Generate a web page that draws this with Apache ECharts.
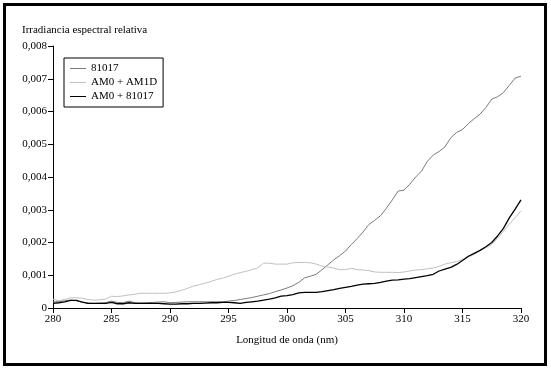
<!DOCTYPE html>
<html>
<head>
<meta charset="utf-8">
<script src="https://cdn.jsdelivr.net/npm/echarts@6/dist/echarts.min.js"></script>
<style>
  html, body { margin: 0; padding: 0; background: #fff; }
  #chart { width: 551px; height: 371px; }
</style>
</head>
<body>
<div id="chart"></div>
<script>
// wavelengths 280..320 nm, 0.5 nm step
var wavelengths = [];
for (var w = 280; w <= 320; w += 0.5) wavelengths.push(w);

var s81017 = [
  0.00018, 0.00020, 0.00022, 0.00024, 0.00022, 0.00018, 0.00015, 0.00014, 0.00015, 0.00016,
  0.00021, 0.00017, 0.00016, 0.00021, 0.00016, 0.00015, 0.00016, 0.00017, 0.00018, 0.00019,
  0.00016, 0.00017, 0.00018, 0.00019, 0.00019, 0.00019, 0.00019, 0.00019, 0.00019, 0.00019,
  0.00021, 0.00023, 0.00026, 0.00029, 0.00032, 0.00036, 0.00040, 0.00044, 0.00050, 0.00055,
  0.00061, 0.00068, 0.00078, 0.00092, 0.00097, 0.00103, 0.00117, 0.00132, 0.00147, 0.00160,
  0.00174, 0.00194, 0.00212, 0.00232, 0.00255, 0.00268, 0.00282, 0.00305, 0.00330, 0.00357,
  0.00360, 0.00378, 0.00400, 0.00418, 0.00448, 0.00467, 0.00478, 0.00492, 0.00520, 0.00536,
  0.00545, 0.00563, 0.00578, 0.00592, 0.00612, 0.00638, 0.00645, 0.00658, 0.00680, 0.00702,
  0.00708
];

var sAM1D = [
  0.00027, 0.00022, 0.00026, 0.00031, 0.00031, 0.00030, 0.00026, 0.00024, 0.00025, 0.00027,
  0.00036, 0.00035, 0.00037, 0.00040, 0.00042, 0.00045, 0.00045, 0.00045, 0.00045, 0.00045,
  0.00046, 0.00049, 0.00054, 0.00060, 0.00067, 0.00071, 0.00076, 0.00081, 0.00087, 0.00091,
  0.00097, 0.00103, 0.00108, 0.00112, 0.00117, 0.00123, 0.00137, 0.00137, 0.00134, 0.00134,
  0.00134, 0.00138, 0.00139, 0.00139, 0.00138, 0.00134, 0.00128, 0.00125, 0.00122, 0.00117,
  0.00117, 0.00121, 0.00117, 0.00116, 0.00114, 0.00110, 0.00109, 0.00109, 0.00109, 0.00108,
  0.00110, 0.00113, 0.00116, 0.00117, 0.00120, 0.00122, 0.00127, 0.00134, 0.00138, 0.00142,
  0.00148, 0.00155, 0.00164, 0.00175, 0.00184, 0.00194, 0.00213, 0.00235, 0.00256, 0.00276,
  0.00297
];

var sAM0_81017 = [
  0.00014, 0.00016, 0.00019, 0.00023, 0.00023, 0.00018, 0.00014, 0.00014, 0.00014, 0.00014,
  0.00017, 0.00013, 0.00013, 0.00016, 0.00014, 0.00014, 0.00014, 0.00014, 0.00014, 0.00013,
  0.00012, 0.00012, 0.00013, 0.00013, 0.00014, 0.00014, 0.00015, 0.00016, 0.00016, 0.00017,
  0.00017, 0.00016, 0.00014, 0.00017, 0.00019, 0.00021, 0.00024, 0.00027, 0.00031, 0.00036,
  0.00038, 0.00041, 0.00046, 0.00048, 0.00048, 0.00048, 0.00050, 0.00053, 0.00056, 0.00060,
  0.00063, 0.00066, 0.00070, 0.00073, 0.00074, 0.00075, 0.00078, 0.00082, 0.00085, 0.00086,
  0.00088, 0.00090, 0.00093, 0.00096, 0.00099, 0.00103, 0.00113, 0.00119, 0.00124, 0.00133,
  0.00145, 0.00158, 0.00167, 0.00176, 0.00187, 0.00200, 0.00220, 0.00243, 0.00275, 0.00302,
  0.00330
];

var seriesNames = ['81017', 'AM0 + AM1D', 'AM0 + 81017'];

function pairs(vals) {
  return vals.map(function (v, i) { return [wavelengths[i], v]; });
}

var font = 'Liberation Serif';
var chart = echarts.init(document.getElementById('chart'));
chart.setOption({
  animation: false,
  textStyle: { fontFamily: font, color: '#000' },
  grid: { left: 53, right: 30, top: 46, bottom: 63 },
  graphic: [
    {
      type: 'rect',
      shape: { x: 4.5, y: 4.5, width: 541, height: 360 },
      style: { fill: 'none', stroke: '#000', lineWidth: 3 }
    },
    {
      type: 'text',
      left: 22, top: 25,
      style: { text: 'Irradiancia espectral relativa', font: '11px "' + font + '"', fill: '#000' }
    }
  ],
  legend: {
    orient: 'vertical',
    left: 64, top: 58,
    padding: [5, 6, 5, 6],
    itemGap: 3,
    itemWidth: 16,
    itemHeight: 10,
    borderColor: '#000',
    borderWidth: 1,
    borderRadius: 0,
    textStyle: { fontFamily: font, fontSize: 11, color: '#000' },
    data: seriesNames.map(function (n) { return { name: n, icon: 'path://M0,4.5 L16,4.5 L16,5.5 L0,5.5 Z' }; })
  },
  xAxis: {
    type: 'value',
    min: 280, max: 320, interval: 5,
    name: 'Longitud de onda (nm)',
    nameLocation: 'middle',
    nameGap: 27,
    nameTextStyle: { fontFamily: font, fontSize: 11, color: '#000' },
    axisLine: { lineStyle: { color: '#000', width: 1 } },
    axisTick: { length: 5, lineStyle: { color: '#000' } },
    axisLabel: { fontFamily: font, fontSize: 11, color: '#000', margin: 6 },
    splitLine: { show: false }
  },
  yAxis: {
    type: 'value',
    min: 0, max: 0.008, interval: 0.001,
    axisLine: { show: true, lineStyle: { color: '#000', width: 1 } },
    axisTick: { show: true, length: 5, lineStyle: { color: '#000' } },
    axisLabel: {
      fontFamily: font, fontSize: 11, color: '#000', margin: 6,
      formatter: function (v) { return v === 0 ? '0' : v.toFixed(3).replace('.', ','); }
    },
    splitLine: { show: false }
  },
  series: [
    { name: seriesNames[0], type: 'line', showSymbol: false, data: pairs(s81017),
      lineStyle: { color: '#7a7a7a', width: 1 }, itemStyle: { color: '#7a7a7a' } },
    { name: seriesNames[1], type: 'line', showSymbol: false, data: pairs(sAM1D),
      lineStyle: { color: '#c0c0c0', width: 1 }, itemStyle: { color: '#c0c0c0' } },
    { name: seriesNames[2], type: 'line', showSymbol: false, data: pairs(sAM0_81017),
      lineStyle: { color: '#000', width: 1.3 }, itemStyle: { color: '#000' } }
  ]
});
</script>
</body>
</html>
